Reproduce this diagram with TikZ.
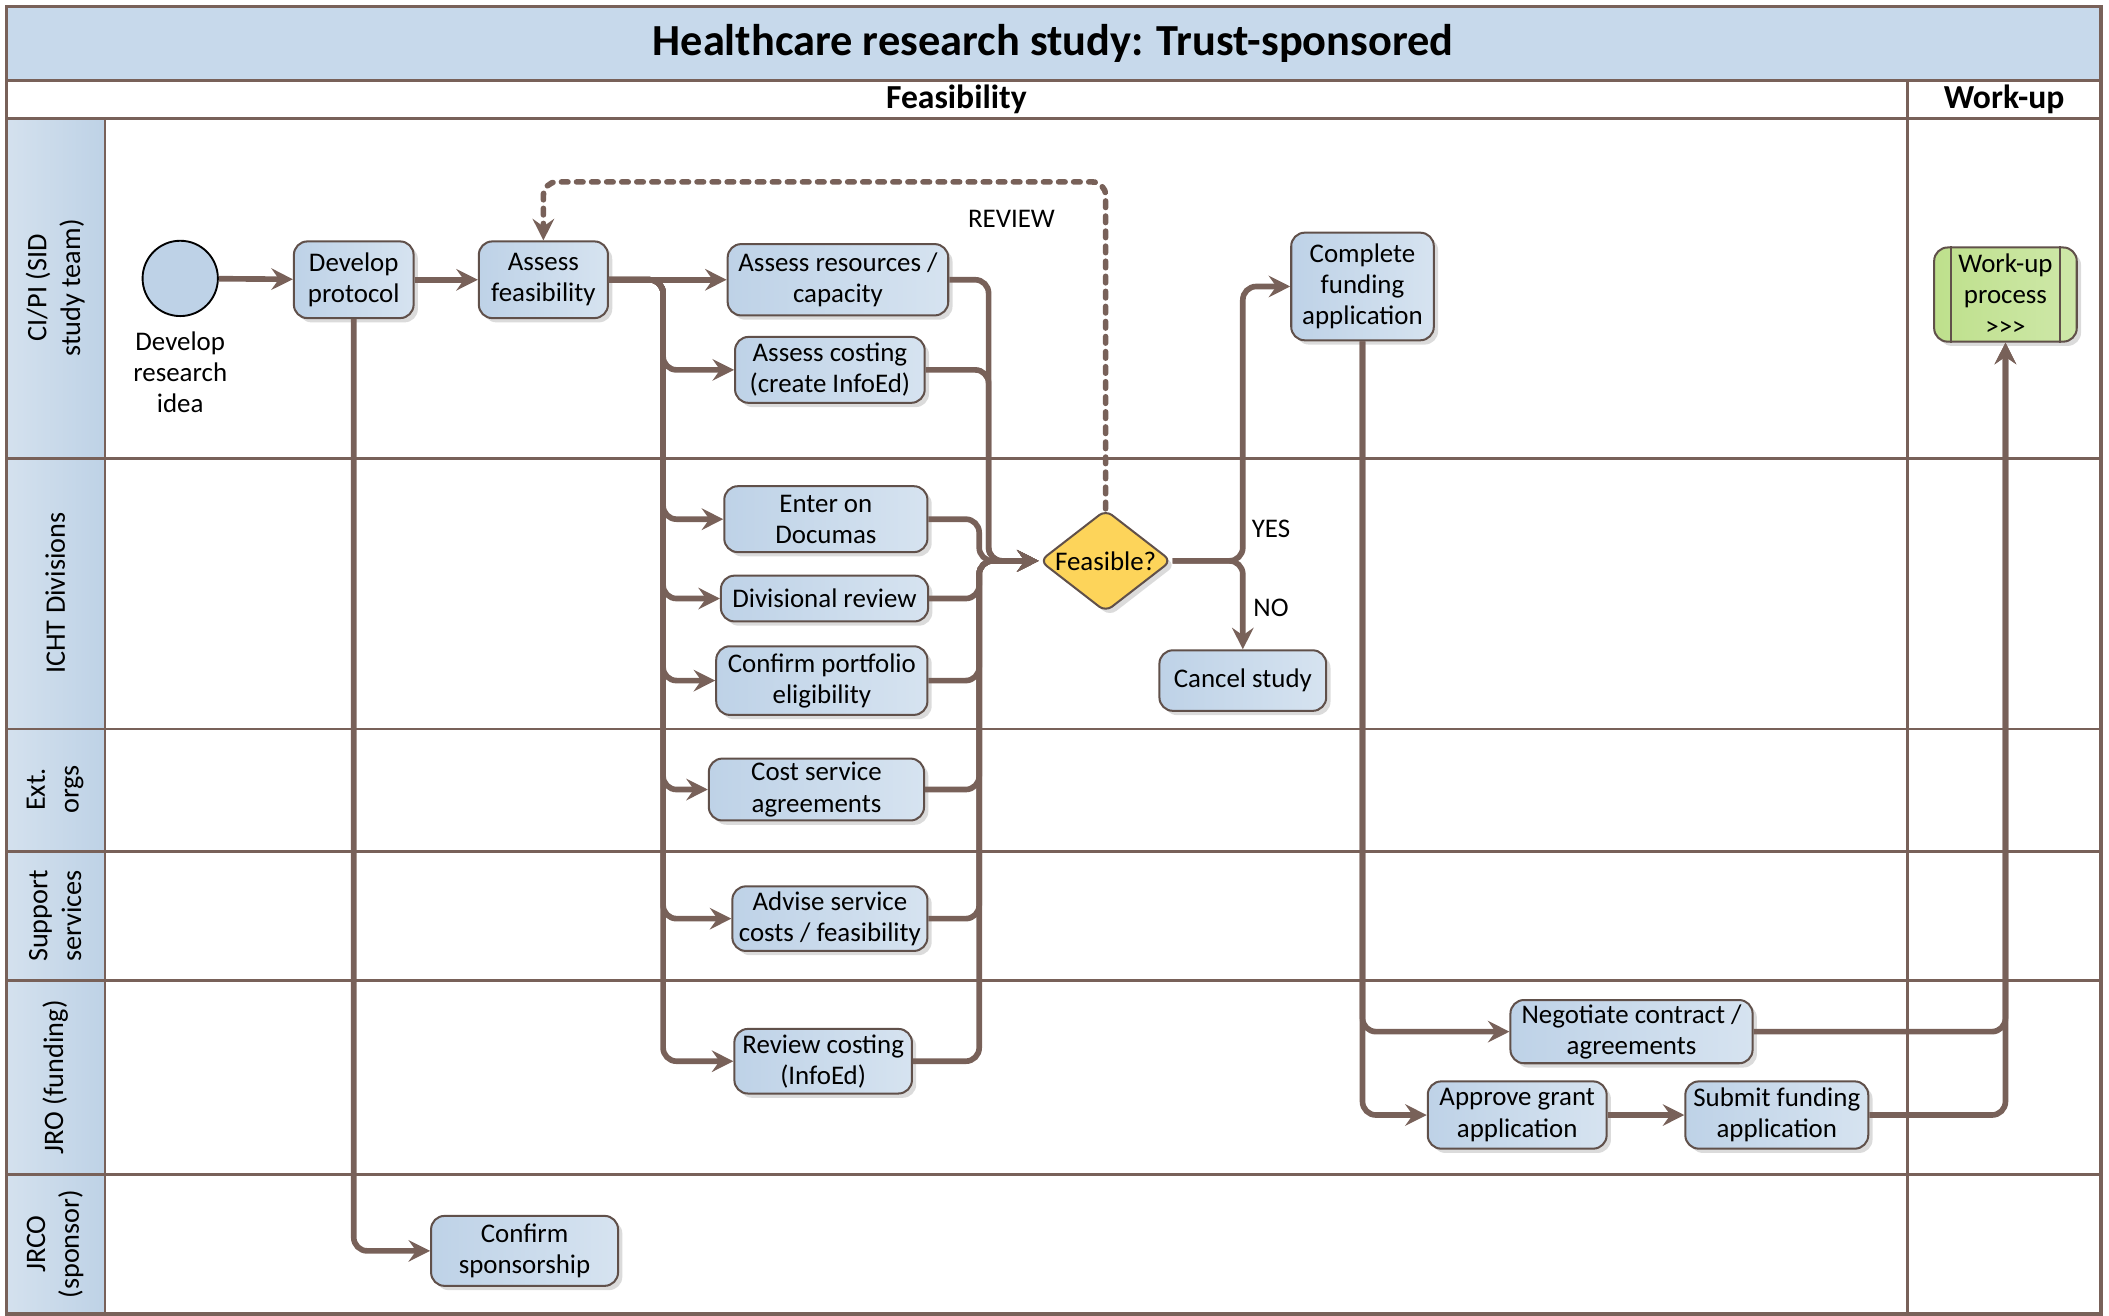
\documentclass[tikz,border=0pt]{standalone}
\usepackage{fontspec}
\setmainfont{Carlito}
\usetikzlibrary{arrows.meta, positioning, shapes.geometric, shadows}

\definecolor{linebrown}{RGB}{120,97,89}
\definecolor{edgebrown}{RGB}{96,80,74}
\definecolor{boxlight}{RGB}{214,227,240}
\definecolor{boxdark}{RGB}{190,210,231}
\definecolor{bandblue}{RGB}{199,217,235}
\definecolor{lanelight}{RGB}{212,225,238}
\definecolor{lanedark}{RGB}{190,210,230}
\definecolor{feasyellow}{RGB}{253,212,90}
\definecolor{workgreen}{RGB}{190,224,140}

\begin{document}
\begin{tikzpicture}[
    x=0.5pt, y=-0.5pt,
    font=\fontsize{10}{11.6}\selectfont,
    base/.style={rectangle, draw=edgebrown, line width=0.75pt, rounded corners=5pt, align=center, inner sep=1pt,
        drop shadow={shadow xshift=1.6pt, shadow yshift=-1.6pt, fill=black!28}},
    box/.style={base, left color=boxdark, right color=boxlight},
    subproc/.style={base, left color=workgreen, right color=workgreen!75!white},
    decision/.style={diamond, aspect=1.3, draw=edgebrown, line width=0.75pt, fill=feasyellow, inner sep=0pt,
        minimum width=49pt, minimum height=38pt, rounded corners=3pt,
        drop shadow={shadow xshift=1.6pt, shadow yshift=-1.6pt, fill=black!28}},
    lane/.style={rotate=90, align=center, font=\fontsize{10.5}{12.5}\selectfont},
    frame/.style={draw=linebrown, line width=1pt},
    arrow/.style={draw=linebrown, line width=2.1pt, rounded corners=5pt, -{Stealth[length=8pt, width=8pt, inset=2.8pt]}},
    review/.style={arrow, dash pattern=on 2.4pt off 3.2pt, line cap=round}
]
\useasboundingbox (0,0) rectangle (1568,978);

% Lanes
\fill[bandblue] (5,5) rectangle (1562,60);
\fill[left color=lanelight, right color=lanedark] (5,88) rectangle (78,977);
\draw[frame] (5,60) -- (1562,60);
\draw[frame] (5,88) -- (1562,88);
\draw[frame] (5,341) -- (1562,341);
\draw[frame] (5,542) -- (1562,542);
\draw[frame] (5,633) -- (1562,633);
\draw[frame] (5,729) -- (1562,729);
\draw[frame] (5,873) -- (1562,873);
\draw[frame] (78,88) -- (78,977);
\draw[frame] (1418,60) -- (1418,977);
\draw[frame, line width=1.2pt] (5,5) rectangle (1562,977);

\node[font=\fontsize{16.5}{19}\selectfont\bfseries] (title) at (783,32) {Healthcare research study: Trust-sponsored};
\node[font=\fontsize{12.5}{14}\selectfont\bfseries] (feashd) at (711,74) {Feasibility};
\node[font=\fontsize{12.5}{14}\selectfont\bfseries] (workhd) at (1490,74) {Work-up};

\node[lane] (cipi) at (41,214) {CI/PI (SID\\study team)};
\node[lane] (icht) at (41,441) {ICHT Divisions};
\node[lane] (ext) at (41,587) {Ext.\\orgs};
\node[lane] (supp) at (41,681) {Support\\services};
\node[lane] (jro) at (41,801) {JRO (funding)};
\node[lane] (jrco) at (41,925) {JRCO\\(sponsor)};

% Nodes
\node[circle, draw=black, line width=0.7pt, fill=boxdark, minimum size=28pt] (start) at (134,207) {};
\node[align=center, below=2pt of start] (startlbl) {Develop\\research\\idea};
\node[box, minimum width=44.5pt, minimum height=28.5pt] (devp) at (263,208) {Develop\\protocol};
\node[box, minimum width=48pt, minimum height=28.5pt] (afeas) at (404,208) {Assess\\feasibility};
\node[box, minimum width=82pt, minimum height=26.5pt] (ares) at (623,208) {Assess resources /\\capacity};
\node[box, minimum width=70.5pt, minimum height=24.5pt] (acost) at (617,275) {Assess costing\\(create InfoEd)};
\node[box, minimum width=75.5pt, minimum height=24.5pt] (documas) at (614,386) {Enter on\\Documas};
\node[box, minimum width=77pt, minimum height=17pt] (divrev) at (613,445) {Divisional review};
\node[box, minimum width=78.5pt, minimum height=25.5pt] (portf) at (611,506) {Confirm portfolio\\eligibility};
\node[box, minimum width=80pt, minimum height=23pt] (costsvc) at (607,587) {Cost service\\agreements};
\node[box, minimum width=72.5pt, minimum height=24pt] (advise) at (617,683) {Advise service\\costs / feasibility};
\node[box, minimum width=66pt, minimum height=24pt] (revcost) at (612,789) {Review costing\\(InfoEd)};
\node[decision] (feas) at (822,417) {Feasible?};
\node[box, minimum width=53pt, minimum height=40pt] (cfund) at (1013,213) {Complete\\funding\\application};
\node[box, minimum width=62pt, minimum height=22.5pt] (cancel) at (924,506) {Cancel study};
\node[subproc, minimum width=53pt, minimum height=35pt] (workup) at (1491,219) {Work-up\\process\\>{}>{}>};
\draw[edgebrown, line width=0.75pt] ([xshift=6.5pt]workup.north west) -- ([xshift=6.5pt]workup.south west);
\draw[edgebrown, line width=0.75pt] ([xshift=-6.5pt]workup.north east) -- ([xshift=-6.5pt]workup.south east);
\node[box, minimum width=90pt, minimum height=23.5pt] (negot) at (1213,767) {Negotiate contract /\\agreements};
\node[box, minimum width=66.5pt, minimum height=25pt] (approve) at (1128,829) {Approve grant\\application};
\node[box, minimum width=68pt, minimum height=25pt, right=28.5pt of approve] (submit) {Submit funding\\application};
\node[box, minimum width=69.5pt, minimum height=26pt] (sponsor) at (390,930) {Confirm\\sponsorship};

\node (review) at (752,163) {REVIEW};
\node (yes) at (945,393) {YES};
\node (no) at (945,452) {NO};

\coordinate (split) at (493,208);
\coordinate (mtop) at (735,417);
\coordinate (mbot) at (728,417);
\coordinate (yn) at (cancel.north |- feas.east);

% Arrows
\draw[arrow] (start) -- (devp);
\draw[arrow] (devp) -- (afeas);
\draw[arrow] (afeas) -- (ares);
\draw[arrow] (afeas.east) -- (split) |- (acost.west);
\draw[arrow] (afeas.east) -- (split) |- (documas.west);
\draw[arrow] (afeas.east) -- (split) |- (divrev.west);
\draw[arrow] (afeas.east) -- (split) |- (portf.west);
\draw[arrow] (afeas.east) -- (split) |- (costsvc.west);
\draw[arrow] (afeas.east) -- (split) |- (advise.west);
\draw[arrow] (afeas.east) -- (split) |- (revcost.west);
\draw[arrow] (devp.south) |- (sponsor.west);
\draw[arrow] (ares.east) -| (mtop) -- (feas.west);
\draw[arrow] (acost.east) -| (mtop) -- (feas.west);
\draw[arrow] (documas.east) -| (mbot) -- (feas.west);
\draw[arrow] (divrev.east) -| (mbot) -- (feas.west);
\draw[arrow] (portf.east) -| (mbot) -- (feas.west);
\draw[arrow] (costsvc.east) -| (mbot) -- (feas.west);
\draw[arrow] (advise.east) -| (mbot) -- (feas.west);
\draw[arrow] (revcost.east) -| (mbot) -- (feas.west);
\draw[review] (feas.north) -- ++(0,-243) -| (afeas.north);
\draw[arrow] (feas.east) -- (yn) |- (cfund.west);
\draw[arrow] (feas.east) -| (cancel.north);
\draw[arrow] (cfund.south) |- (negot.west);
\draw[arrow] (cfund.south) |- (approve.west);
\draw[arrow] (approve) -- (submit);
\draw[arrow] (submit.east) -| (workup.south);
\draw[arrow] (negot.east) -| (workup.south);

\end{tikzpicture}
\end{document}
